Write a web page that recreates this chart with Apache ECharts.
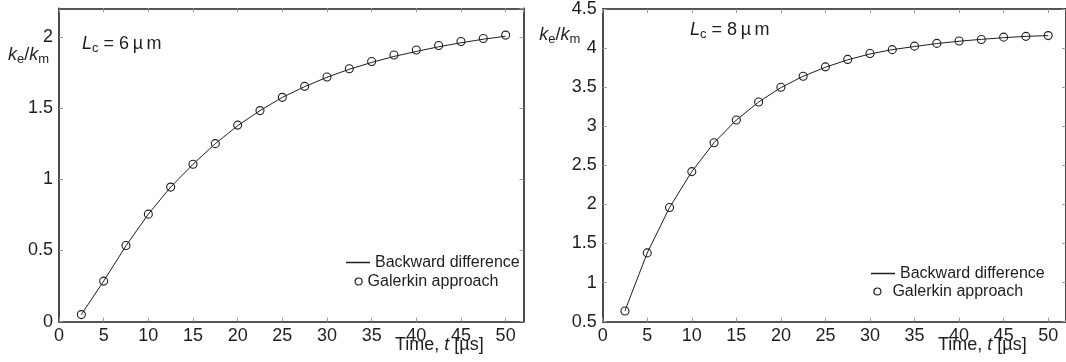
<!DOCTYPE html>
<html>
<head>
<meta charset="utf-8">
<script src="https://cdn.jsdelivr.net/npm/echarts@6/dist/echarts.min.js"></script>
<style>
  html, body { margin: 0; padding: 0; background: #fff; }
  #chart { width: 1066px; height: 362px; }
</style>
</head>
<body>
<div id="chart"></div>
<script>
// Sampling times [µs]
const times = [2.5, 5, 7.5, 10, 12.5, 15, 17.5, 20, 22.5, 25, 27.5, 30, 32.5, 35, 37.5, 40, 42.5, 45, 47.5, 50];

// L_c = 6 µm : effective-to-matrix conductivity ratio
const backward6 = [0.05, 0.285, 0.533, 0.755, 0.945, 1.105, 1.25, 1.376, 1.482, 1.575, 1.65, 1.716, 1.772, 1.82, 1.862, 1.897, 1.93, 1.958, 1.983, 2.004];
const galerkin6 = [0.05, 0.285, 0.535, 0.755, 0.945, 1.105, 1.25, 1.38, 1.482, 1.575, 1.652, 1.718, 1.776, 1.827, 1.872, 1.907, 1.939, 1.967, 1.988, 2.012];

// L_c = 8 µm
const backward8 = [0.64, 1.38, 1.96, 2.42, 2.79, 3.08, 3.31, 3.495, 3.64, 3.755, 3.85, 3.925, 3.98, 4.02, 4.058, 4.088, 4.112, 4.133, 4.15, 4.16];
const galerkin8 = [0.637, 1.38, 1.96, 2.42, 2.79, 3.08, 3.31, 3.5, 3.64, 3.76, 3.855, 3.93, 3.98, 4.025, 4.06, 4.09, 4.11, 4.14, 4.15, 4.16];

// Axis ranges and tick steps
const xRange = [0, 52];
const xStep = 5;
const yRange6 = [0, 2.2];
const yRange8 = [0.5, 4.5];
const yStep = 0.5;

const FONT = 'Liberation Sans, Arial, Helvetica, sans-serif';
const INK = '#1e1e1e';

const pairs = (xs, ys) => xs.map((x, i) => [x, ys[i]]);

const rich = {
  k: { fontFamily: FONT, fontSize: 18, fontStyle: 'italic', fontWeight: 'normal', lineHeight: 22, color: INK },
  r: { fontFamily: FONT, fontSize: 18, fontWeight: 'normal', lineHeight: 22, color: INK },
  s: { fontFamily: FONT, fontSize: 13, fontWeight: 'normal', lineHeight: 12, verticalAlign: 'bottom', color: INK }
};

function textBox(text, left, top) {
  return {
    text: text, left: left, top: top, padding: 0,
    textStyle: { fontFamily: FONT, fontSize: 18, fontWeight: 'normal', color: INK, rich: rich }
  };
}

const frameLine = { show: true, onZero: false, lineStyle: { color: INK, width: 1.6 } };
const innerTick = { show: true, inside: true, length: 4, lineStyle: { color: '#9a9a9a', width: 1 } };

function xAxes(gridIndex) {
  const base = { type: 'value', gridIndex: gridIndex, min: xRange[0], max: xRange[1], interval: xStep, splitLine: { show: false } };
  return [
    Object.assign({}, base, {
      position: 'bottom', axisLine: frameLine, axisTick: innerTick,
      axisLabel: { margin: 5, fontFamily: FONT, fontSize: 18, color: INK, showMaxLabel: false }
    }),
    Object.assign({}, base, {
      position: 'top', axisLine: frameLine, axisTick: innerTick, axisLabel: { show: false }
    })
  ];
}

function yAxes(gridIndex, range) {
  const base = { type: 'value', gridIndex: gridIndex, min: range[0], max: range[1], interval: yStep, splitLine: { show: false } };
  return [
    Object.assign({}, base, {
      position: 'left', axisLine: frameLine, axisTick: innerTick,
      axisLabel: { margin: 6, fontFamily: FONT, fontSize: 18, color: INK, showMaxLabel: gridIndex === 1 }
    }),
    Object.assign({}, base, {
      position: 'right', axisLine: frameLine, axisTick: innerTick, axisLabel: { show: false }
    })
  ];
}

function lineSeries(axisIndex, values) {
  return {
    name: 'Backward difference', type: 'line', xAxisIndex: axisIndex, yAxisIndex: axisIndex,
    data: pairs(times, values), symbol: 'none', showSymbol: false,
    lineStyle: { color: INK, width: 1 }, itemStyle: { color: INK }, z: 2
  };
}

function markerSeries(axisIndex, values) {
  return {
    name: 'Galerkin approach', type: 'scatter', xAxisIndex: axisIndex, yAxisIndex: axisIndex,
    data: pairs(times, values), symbol: 'circle', symbolSize: 8,
    itemStyle: { color: 'rgba(255,255,255,0)', borderColor: INK, borderWidth: 1.1, opacity: 1 }, z: 3
  };
}

const legendText = { fontFamily: FONT, fontSize: 16, lineHeight: 18, color: INK };

function lineLegend(left, top) {
  return {
    data: [{ name: 'Backward difference', icon: 'rect', itemStyle: { color: INK, borderWidth: 0 } }],
    left: left, top: top, padding: 0, itemWidth: 24, itemHeight: 1.5,
    selectedMode: false, textStyle: legendText
  };
}

function markerLegend(left, top, width) {
  return {
    data: [{ name: 'Galerkin approach', icon: 'circle', itemStyle: { color: 'rgba(255,255,255,0)', borderColor: INK, borderWidth: 1.2 } }],
    left: left, top: top, padding: 0, itemWidth: width, itemHeight: 7,
    selectedMode: false, textStyle: legendText
  };
}

const chart = echarts.init(document.getElementById('chart'), null, { renderer: 'canvas' });

chart.setOption({
  animation: false,
  backgroundColor: '#fff',
  grid: [
    { left: 59, top: 8.3, width: 464.5, height: 313.4, containLabel: false },
    { left: 602.7, top: 7.3, width: 463.8, height: 314.4, containLabel: false }
  ],
  xAxis: xAxes(0).concat(xAxes(1)),
  yAxis: yAxes(0, yRange6).concat(yAxes(1, yRange8)),
  title: [
    textBox('{k|k}{s|e}{r|/}{k|k}{s|m}', 8, 44.4),
    textBox('{k|L}{s|c}{r| = 6\u2009µ\u2009m}', 82, 32.7),
    textBox('{r|Time, }{k|t}{r| [µs]}', 395, 334.4),
    textBox('{k|k}{s|e}{r|/}{k|k}{s|m}', 539.3, 24.4),
    textBox('{k|L}{s|c}{r| = 8\u2009µ\u2009m}', 690, 19.4),
    textBox('{r|Time, }{k|t}{r| [µs]}', 938, 334.4)
  ],
  legend: [
    lineLegend(346, 253.5),
    markerLegend(354.5, 272.5, 8),
    lineLegend(871, 264.5),
    markerLegend(873.3, 282.5, 20)
  ],
  series: [
    lineSeries(0, backward6),
    markerSeries(0, galerkin6),
    lineSeries(2, backward8),
    markerSeries(2, galerkin8)
  ]
});
</script>
</body>
</html>
